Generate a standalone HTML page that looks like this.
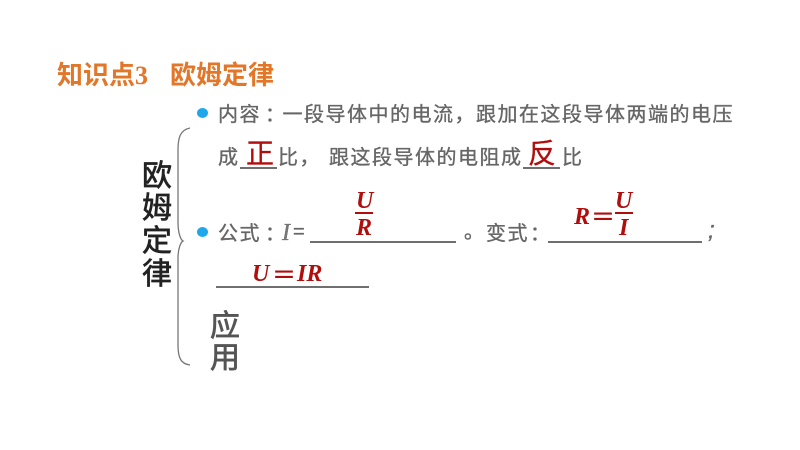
<!DOCTYPE html>
<html lang="zh"><head><meta charset="utf-8"><title>欧姆定律</title>
<style>
html,body{margin:0;padding:0;background:#fff}
#p{position:relative;width:800px;height:450px;overflow:hidden;background:#fff;font-family:"Liberation Sans","Noto Sans CJK SC",sans-serif}
#p div{position:absolute;white-space:nowrap;line-height:1}
.g{color:#666;font-size:20px;letter-spacing:1.5px;font-family:"Liberation Sans","WenQuanYi Zen Hei","Noto Sans CJK SC",sans-serif;-webkit-text-stroke:.35px #666;filter:blur(.35px)}
.c{font-family:"Noto Sans CJK TC",sans-serif;position:relative;left:4px}
.k{color:#222;font-size:30px;font-family:"Liberation Sans","WenQuanYi Zen Hei","Noto Sans CJK SC",sans-serif;-webkit-text-stroke:.7px #222}
.r{color:#b00d0d;font:italic bold 24px "Liberation Serif","Noto Serif CJK SC",serif}
.q{color:#b00d0d;font:bold 24px "Noto Serif CJK SC",serif;-webkit-text-stroke:.9px #b00d0d}
.z{color:#b00d0d;font-size:28px;font-family:"Liberation Sans","WenQuanYi Zen Hei","Noto Sans CJK SC",sans-serif;-webkit-text-stroke:.3px #b00d0d}
.l{background:#6f6f6f;height:2px}
.d{width:11px;height:10px;border-radius:50%;background:#1ea7ea}
.t{color:#e2772a;font-size:26px;font-weight:bold;font-family:"Liberation Serif","Noto Sans CJK SC",sans-serif}
</style></head><body><div id="p">
<div class="t" style="left:57px;top:63px">知识点3</div>
<div class="t" style="left:170px;top:63px">欧姆定律</div>

<div class="d" style="left:197px;top:108px"></div>
<div class="g" style="left:218px;top:103px">内容<span class="c">：</span>一段导体中的电流，跟加在这段导体两端的电压</div>
<div class="g" style="left:218px;top:148px">成</div>
<div class="z" style="left:246px;top:140px">正</div>
<div class="l" style="left:240px;top:167px;width:37px"></div>
<div class="g" style="left:278px;top:148px">比，</div>
<div class="g" style="left:329px;top:148px">跟这段导体的电阻成</div>
<div class="z" style="left:528px;top:140px">反</div>
<div class="l" style="left:523px;top:167px;width:37px"></div>
<div class="g" style="left:562px;top:148px">比</div>

<svg style="position:absolute;left:0;top:0" width="800" height="450" fill="none">
<path d="M190 128C180 130 178 138 178 150V222C178 234 181 240 183 241C181 242 178 248 178 258V345C178 358 181 364 190 365" stroke="#777" stroke-width="1.3"/>
</svg>

<div class="k" style="left:142px;top:162px">欧</div>
<div class="k" style="left:142px;top:194px">姆</div>
<div class="k" style="left:142px;top:227px">定</div>
<div class="k" style="left:142px;top:260px">律</div>

<div class="d" style="left:197px;top:227px"></div>
<div class="g" style="left:218px;top:222px">公式<span class="c">：</span></div>
<div class="g" style="left:282px;top:220px;font:italic 24px 'Liberation Serif',serif;color:#777">I</div>
<div class="g" style="left:293px;top:222px;font-size:20px">=</div>
<div class="l" style="left:310px;top:241px;width:146px"></div>
<div class="r" style="left:356px;top:189px">U</div>
<div style="left:355px;top:212px;width:18px;height:1.5px;background:#b00d0d"></div>
<div class="r" style="left:356px;top:216px">R</div>
<div class="g" style="left:464px;top:222px">。</div>
<div class="g" style="left:486px;top:222px">变式<span class="c" style="left:1px">：</span></div>
<div class="l" style="left:548px;top:241px;width:154px"></div>
<div class="r" style="left:574px;top:205px">R</div>
<div class="q" style="left:591px;top:203px">＝</div>
<div class="r" style="left:615px;top:189px">U</div>
<div style="left:615px;top:212px;width:18px;height:1.5px;background:#b00d0d"></div>
<div class="r" style="left:619px;top:216px">I</div>
<div class="g" style="left:708px;top:219px;font-size:24px;font-style:italic">;</div>
<div class="r" style="left:252px;top:262px">U</div>
<div class="q" style="left:272px;top:261px">＝</div>
<div class="r" style="left:297px;top:262px">IR</div>
<div class="l" style="left:216px;top:286px;width:153px"></div>

<div class="k" style="left:210px;top:312px;color:#555;-webkit-text-stroke:.7px #555">应</div>
<div class="k" style="left:210px;top:344px;color:#555;-webkit-text-stroke:.7px #555">用</div>
</div></body></html>
